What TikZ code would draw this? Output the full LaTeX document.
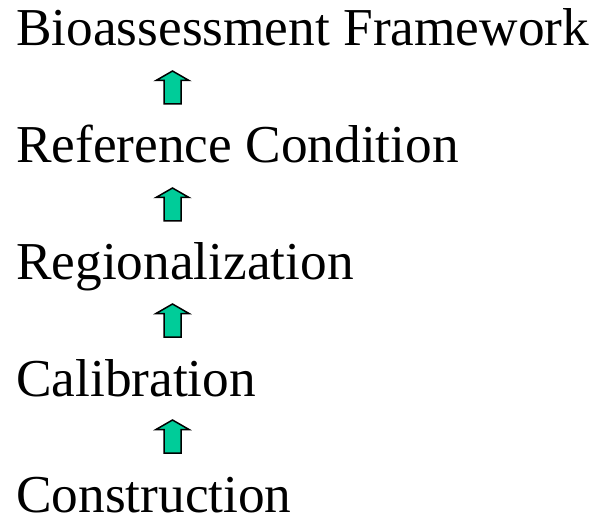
\documentclass[tikz,border=0pt]{standalone}
\usepackage{fontspec}
\setmainfont{Liberation Serif}
\definecolor{arrowfill}{RGB}{0,204,153}
\tikzset{
  lbl/.style={anchor=base west, inner sep=0pt, text depth=0pt, font=\fontsize{53.3}{60}\selectfont},
  uparrow/.style={draw=black, line width=1.5pt, fill=arrowfill, line join=miter}
}
\newcommand{\uparr}[3]{% name, tip y, bottom y
  \path[uparrow] (164,#3) -- (164,#2+9.5) -- (156,#2+9.5) -- (172.5,#2) -- (189,#2+9.5) -- (181,#2+9.5) -- (181,#3) -- cycle;
  \coordinate (#1) at (172.5,#2);
}
\begin{document}
\begin{tikzpicture}[x=1pt,y=-1pt]
\useasboundingbox (0,0) rectangle (591,521);
\node[lbl] (t1) at (16,46) {Bioassessment Framework};
\node[lbl] (t2) at (16,163) {Reference Condition};
\node[lbl] (t3) at (16,279.5) {Regionalization};
\node[lbl] (t4) at (16,396) {Calibration};
\node[lbl] (t5) at (16,512) {Construction};
\uparr{a1}{71}{104}
\uparr{a2}{188}{221}
\uparr{a3}{304}{337}
\uparr{a4}{420}{453}
\end{tikzpicture}
\end{document}
